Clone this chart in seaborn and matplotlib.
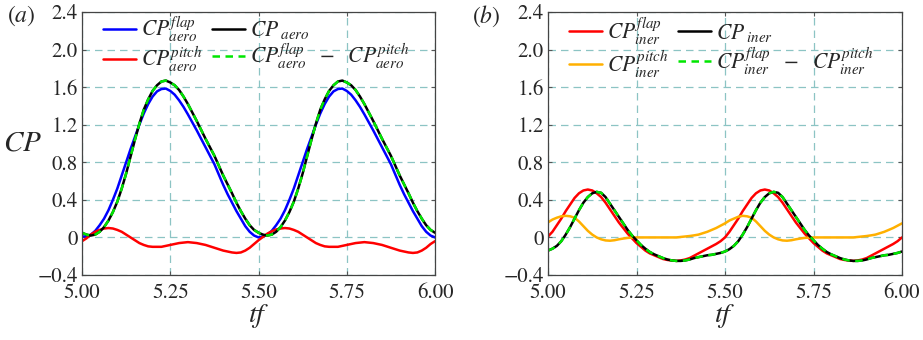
import numpy as np
import pandas as pd
import matplotlib
matplotlib.use("Agg")
import matplotlib.pyplot as plt
import seaborn as sns

# ---------------- data ----------------
t = np.round(np.linspace(5.0, 6.0, 81), 4)

# panel (a): aerodynamic power coefficients
cp_aero_flap = [0.01, 0.01, 0.03, 0.07, 0.13, 0.20, 0.29, 0.40, 0.52, 0.66,
                0.80, 0.94, 1.07, 1.20, 1.32, 1.42, 1.50, 1.555, 1.58, 1.585,
                1.56, 1.52, 1.46, 1.39, 1.31, 1.225, 1.14, 1.05, 0.96, 0.87,
                0.78, 0.67, 0.56, 0.46, 0.37, 0.28, 0.20, 0.12, 0.06, 0.02,
                0.00] + \
               [0.01, 0.03, 0.07, 0.13, 0.20, 0.29, 0.40, 0.52, 0.66, 0.80,
                0.94, 1.07, 1.20, 1.32, 1.42, 1.50, 1.555, 1.58, 1.585, 1.56,
                1.52, 1.46, 1.39, 1.31, 1.225, 1.14, 1.05, 0.96, 0.87, 0.78,
                0.67, 0.56, 0.46, 0.37, 0.28, 0.20, 0.12, 0.06, 0.02, 0.00]
cp_aero = [0.05, 0.03, 0.02, 0.03, 0.06, 0.11, 0.18, 0.27, 0.38, 0.52,
           0.68, 0.86, 1.04, 1.21, 1.36, 1.47, 1.56, 1.62, 1.66, 1.67,
           1.65, 1.62, 1.57, 1.50, 1.42, 1.33, 1.24, 1.145, 1.05, 0.96,
           0.87, 0.765, 0.66, 0.565, 0.47, 0.37, 0.28, 0.20, 0.13, 0.08,
           0.05] + \
          [0.03, 0.02, 0.03, 0.06, 0.11, 0.18, 0.27, 0.38, 0.52, 0.68,
           0.86, 1.04, 1.21, 1.36, 1.47, 1.56, 1.62, 1.66, 1.67, 1.65,
           1.62, 1.57, 1.50, 1.42, 1.33, 1.24, 1.145, 1.05, 0.96, 0.87,
           0.765, 0.66, 0.565, 0.47, 0.37, 0.28, 0.20, 0.13, 0.08, 0.05]
cp_aero_pitch = [-0.04, -0.01, 0.03, 0.06, 0.08, 0.095, 0.10, 0.095, 0.08, 0.06,
                 0.03, 0.00, -0.03, -0.06, -0.08, -0.095, -0.10, -0.10, -0.10, -0.09,
                 -0.08, -0.07, -0.06, -0.055, -0.05, -0.055, -0.06, -0.07, -0.08, -0.095,
                 -0.11, -0.125, -0.14, -0.15, -0.16, -0.165, -0.16, -0.14, -0.11, -0.07,
                 -0.03] + \
                [0.005, 0.04, 0.065, 0.085, 0.095, 0.10, 0.095, 0.08, 0.06, 0.03,
                 0.00, -0.03, -0.06, -0.08, -0.095, -0.10, -0.10, -0.10, -0.09, -0.08,
                 -0.07, -0.06, -0.055, -0.05, -0.055, -0.06, -0.07, -0.08, -0.095, -0.11,
                 -0.125, -0.14, -0.15, -0.16, -0.165, -0.16, -0.14, -0.11, -0.07, -0.04]
cp_aero_diff = list(cp_aero)

# panel (b): inertial power coefficients
cp_iner_flap = [0.01, 0.06, 0.13, 0.20, 0.28, 0.35, 0.42, 0.47, 0.50, 0.51,
                0.50, 0.47, 0.43, 0.37, 0.30, 0.23, 0.16, 0.10, 0.04, -0.01,
                -0.06, -0.10, -0.14, -0.17, -0.19, -0.21, -0.23, -0.24, -0.245, -0.25,
                -0.245, -0.235, -0.22, -0.195, -0.17, -0.145, -0.12, -0.095, -0.07, -0.04,
                0.00] + \
               [0.06, 0.13, 0.20, 0.28, 0.35, 0.42, 0.47, 0.50, 0.51, 0.50,
                0.47, 0.43, 0.37, 0.30, 0.23, 0.16, 0.10, 0.04, -0.01, -0.06,
                -0.10, -0.14, -0.17, -0.19, -0.21, -0.23, -0.24, -0.245, -0.25, -0.245,
                -0.235, -0.22, -0.195, -0.17, -0.145, -0.12, -0.095, -0.07, -0.04, 0.00]
cp_iner = [-0.14, -0.12, -0.09, -0.04, 0.03, 0.11, 0.20, 0.29, 0.37, 0.43,
           0.47, 0.485, 0.475, 0.43, 0.36, 0.29, 0.22, 0.15, 0.08, 0.02,
           -0.03, -0.08, -0.12, -0.155, -0.18, -0.20, -0.22, -0.235, -0.245, -0.25,
           -0.25, -0.245, -0.235, -0.22, -0.21, -0.20, -0.19, -0.185, -0.175, -0.165,
           -0.15] + \
          [-0.125, -0.09, -0.04, 0.03, 0.11, 0.20, 0.29, 0.37, 0.43, 0.47,
           0.485, 0.475, 0.43, 0.36, 0.29, 0.22, 0.15, 0.08, 0.02, -0.03,
           -0.08, -0.12, -0.155, -0.18, -0.20, -0.22, -0.235, -0.245, -0.25, -0.25,
           -0.245, -0.235, -0.22, -0.21, -0.20, -0.19, -0.185, -0.175, -0.165, -0.15]
cp_iner_pitch = [0.16, 0.19, 0.21, 0.225, 0.23, 0.225, 0.21, 0.17, 0.12, 0.07,
                 0.03, 0.00, -0.02, -0.032, -0.035, -0.03, -0.02, -0.012, -0.005, -0.002,
                 0.0, 0.0, 0.0, 0.0, 0.0, 0.0, 0.0, 0.0, 0.0, 0.0,
                 0.005, 0.01, 0.015, 0.022, 0.03, 0.045, 0.06, 0.08, 0.10, 0.125,
                 0.15] + \
                [0.18, 0.20, 0.22, 0.23, 0.225, 0.21, 0.17, 0.12, 0.07, 0.03,
                 0.00, -0.02, -0.032, -0.035, -0.03, -0.02, -0.012, -0.005, -0.002, 0.0,
                 0.0, 0.0, 0.0, 0.0, 0.0, 0.0, 0.0, 0.0, 0.0, 0.005,
                 0.01, 0.015, 0.022, 0.03, 0.045, 0.06, 0.08, 0.10, 0.125, 0.15]
cp_iner_diff = list(cp_iner)

yticks = [-0.4, 0.0, 0.4, 0.8, 1.2, 1.6, 2.0, 2.4]
ytick_labels = ["\u22120.4", "0", "0.4", "0.8", "1.2", "1.6", "2.0", "2.4"]
xticks = [5.0, 5.25, 5.5, 5.75, 6.0]
xtick_labels = ["5.00", "5.25", "5.50", "5.75", "6.00"]

# ---------------- style ----------------
sns.set_style("ticks")
plt.rcParams["font.family"] = ["STIXGeneral", "Liberation Serif", "DejaVu Serif"]
plt.rcParams["mathtext.fontset"] = "stix"

fig = plt.figure(figsize=(9.23, 3.4), dpi=100)
ax_a = fig.add_axes([82 / 923, 1 - 275 / 340, 353 / 923, 263 / 340])
ax_b = fig.add_axes([548 / 923, 1 - 275 / 340, 354 / 923, 263 / 340])

grid_col = "#8cc4c4"
lw = 1.8


def style_axes(ax):
    ax.set_xlim(5.0, 6.0)
    ax.set_ylim(-0.4, 2.4)
    ax.set_xticks(xticks)
    ax.set_xticklabels(xtick_labels)
    ax.set_yticks(yticks)
    ax.set_yticklabels(ytick_labels)
    ax.grid(True, color=grid_col, linestyle=(0, (6, 4)), linewidth=0.9)
    ax.set_axisbelow(True)
    ax.tick_params(direction="in", top=True, right=True, length=3, width=0.8,
                   color="#555555", labelsize=15)
    ax.tick_params(axis="x", pad=6)
    ax.tick_params(axis="y", pad=3)
    for s in ax.spines.values():
        s.set_color("#444444")
        s.set_linewidth(0.9)
    ax.set_xlabel("$tf$", fontsize=20, labelpad=-1)


def draw(ax, series, labels, colors):
    for y, lab, c in zip(series[:-1], labels[:-1], colors[:-1]):
        sns.lineplot(x=t, y=y, ax=ax, color=c, linewidth=lw, label=lab, legend=False)
    sns.lineplot(x=t, y=series[-1], ax=ax, color=colors[-1], linewidth=lw,
                 linestyle=(0, (3, 2.2)), label=labels[-1], legend=False)


# panel a
series_a = [cp_aero_flap, cp_aero_pitch, cp_aero, cp_aero_diff]
labels_a = [r"$CP^{flap}_{aero}$", r"$CP^{pitch}_{aero}$", r"$CP_{\;aero}$",
            r"$CP^{flap}_{aero}\ \ -\ \ CP^{pitch}_{aero}$"]
colors_a = ["#0000ff", "#ff0000", "black", "#00e600"]
draw(ax_a, series_a, labels_a, colors_a)
style_axes(ax_a)
ax_a.set_ylabel("$CP$", fontsize=21, rotation=0, labelpad=11, va="center")

# panel b
series_b = [cp_iner_flap, cp_iner_pitch, cp_iner, cp_iner_diff]
labels_b = [r"$CP^{flap}_{iner}$", r"$CP^{pitch}_{iner}$", r"$CP_{\;iner}$",
            r"$CP^{flap}_{iner}\ \ -\ \ CP^{pitch}_{iner}$"]
colors_b = ["#ff0000", "#ffb000", "black", "#00e600"]
draw(ax_b, series_b, labels_b, colors_b)
style_axes(ax_b)
ax_b.set_ylabel("")

for ax in (ax_a, ax_b):
    h, l = ax.get_legend_handles_labels()
    ax.legend(h, l, ncol=2, loc="upper left", bbox_to_anchor=(0.03, 1.03),
              frameon=False, fontsize=15.5, handlelength=1.5, handletextpad=0.25,
              columnspacing=0.45, labelspacing=0.05, borderaxespad=0.1)

fig.text(7 / 923, 1 - 16 / 340, "($a$)", fontsize=17, va="center", ha="left")
fig.text(472 / 923, 1 - 16 / 340, "($b$)", fontsize=17, va="center", ha="left")

fig.savefig("out.png", dpi=100)
